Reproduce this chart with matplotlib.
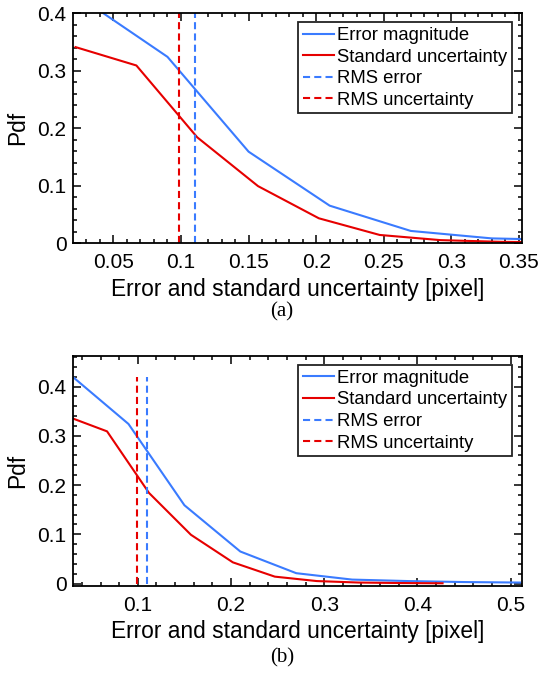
import matplotlib
matplotlib.use("Agg")
import matplotlib.pyplot as plt
from matplotlib.ticker import MultipleLocator
import numpy as np

plt.rcParams['font.family'] = ['Liberation Sans', 'DejaVu Sans']

# error magnitude pdf (blue) and standard uncertainty pdf (red)
err_x = [0.03, 0.09, 0.15, 0.21, 0.27, 0.33, 0.39, 0.45, 0.51]
err_pdf = [0.420, 0.324, 0.159, 0.065, 0.021, 0.008, 0.005, 0.003, 0.002]
unc_x = [0.022, 0.067, 0.112, 0.157, 0.202, 0.247, 0.292, 0.337, 0.382, 0.427]
unc_pdf = [0.341, 0.309, 0.184, 0.099, 0.043, 0.014, 0.005, 0.002, 0.001, 0.0005]
rms_err = 0.110
rms_unc = 0.0988
rms_span = [0.0, 0.42]

labels = ['Error magnitude', 'Standard uncertainty', 'RMS error', 'RMS uncertainty']
blue = '#3a7bff'
red = '#e60000'

W, H = 541, 673
fig = plt.figure(figsize=(W / 100, H / 100), dpi=100)


def px_axes(left, top, right, bottom):
    return fig.add_axes([left / W, 1 - bottom / H, (right - left) / W, (bottom - top) / H])


def draw(ax, xlim, ylim, xmaj, xmin):
    ax.plot(err_x, err_pdf, color=blue, lw=1.5, label=labels[0])
    ax.plot(unc_x, unc_pdf, color=red, lw=1.5, label=labels[1])
    ax.plot([rms_err, rms_err], rms_span, color=blue, lw=1.5, dashes=(3.4, 2.0), label=labels[2])
    ax.plot([rms_unc, rms_unc], rms_span, color=red, lw=1.5, dashes=(3.4, 2.0), label=labels[3])
    ax.set_xlim(*xlim)
    ax.set_ylim(*ylim)
    ax.xaxis.set_major_locator(MultipleLocator(xmaj))
    ax.xaxis.set_minor_locator(MultipleLocator(xmin))
    ax.yaxis.set_major_locator(MultipleLocator(0.1))
    ax.yaxis.set_minor_locator(MultipleLocator(0.02))
    ax.xaxis.set_major_formatter(plt.FuncFormatter(lambda v, p: f'{v:g}'))
    ax.yaxis.set_major_formatter(plt.FuncFormatter(lambda v, p: f'{v:g}'))
    ax.tick_params(which='both', direction='in', top=True, right=True, width=1.1, labelsize=15)
    ax.tick_params(which='major', length=5.8)
    ax.tick_params(which='minor', length=2.9)
    ax.tick_params(axis='x', which='major', pad=7.5)
    ax.tick_params(axis='y', which='major', pad=5)
    for s in ax.spines.values():
        s.set_linewidth(1.3)
    ax.set_xlabel('Error and standard uncertainty [pixel]', fontsize=16.4, labelpad=4)
    ax.set_ylabel('Pdf', fontsize=16.4, labelpad=6)
    leg = ax.legend(loc='upper right', bbox_to_anchor=(0.979, 0.96), borderaxespad=0,
                    fontsize=13.3, fancybox=False, framealpha=1, edgecolor='#222222',
                    handlelength=1.7, handletextpad=0.18, borderpad=0.25, labelspacing=0.25)
    leg.get_frame().set_linewidth(1.3)


ax1 = px_axes(73.4, 13.2, 521.6, 243)
draw(ax1, (0.0204, 0.352), (0, 0.4), 0.05, 0.01)

ax2 = px_axes(73.4, 356, 521.6, 585.5)
draw(ax2, (0.0309, 0.5118), (-0.004, 0.462), 0.1, 0.02)

fig.text(282 / W, 1 - 312 / H, '(a)', family='Liberation Serif', fontsize=15, ha='center', va='center')
fig.text(282 / W, 1 - 658 / H, '(b)', family='Liberation Serif', fontsize=15, ha='center', va='center')

fig.savefig('out.png', dpi=100)
